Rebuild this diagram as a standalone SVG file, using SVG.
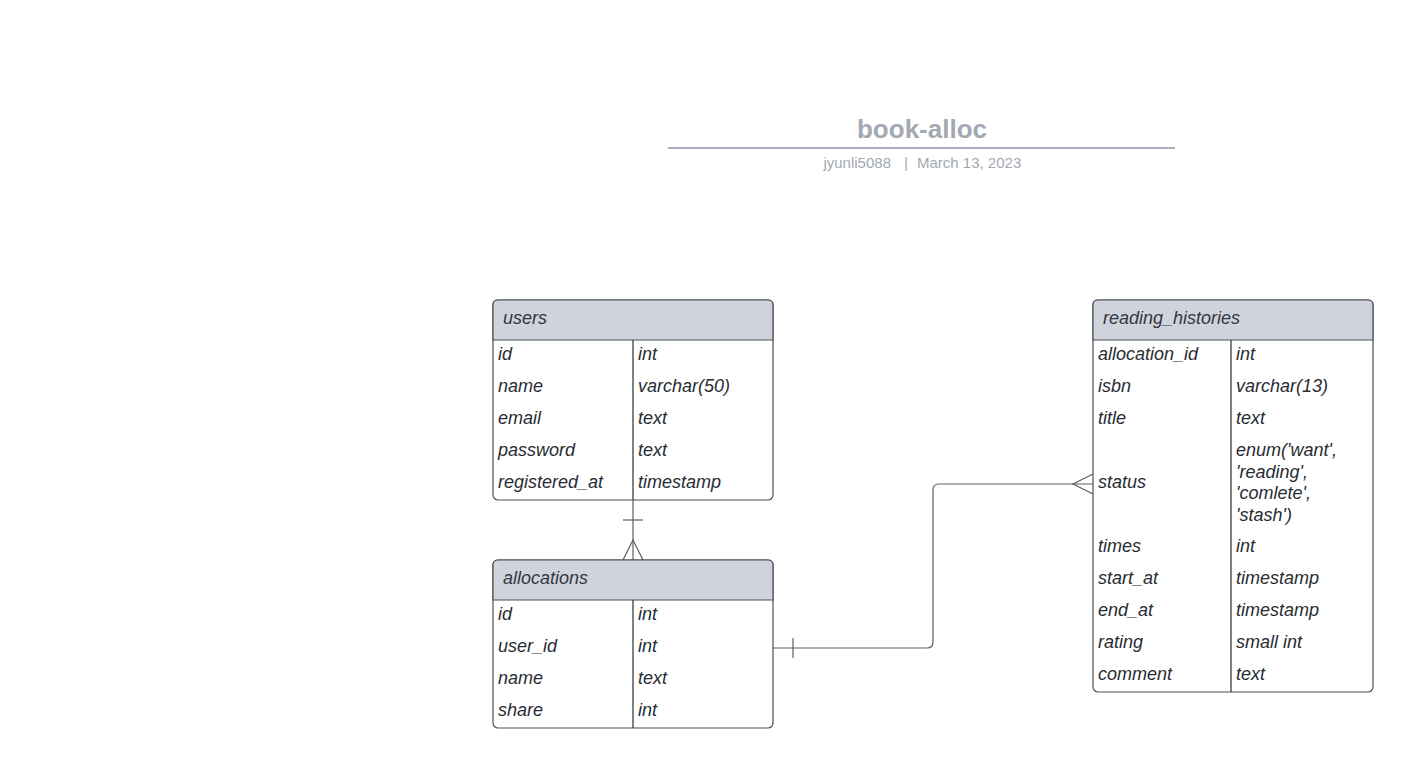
<svg xmlns="http://www.w3.org/2000/svg" width="1413" height="768" viewBox="0 0 1413 768">
<style>
.box{fill:#ffffff;stroke:#4c4f55;stroke-width:1.2}
.hdr{fill:#cfd4dc;stroke:#4c4f55;stroke-width:1.2}
.div{stroke:#282c33;stroke-width:1.2}
.t{font-family:"Liberation Sans",Arial,sans-serif;font-size:18px;font-style:italic;fill:#282c33}
.h{font-family:"Liberation Sans",Arial,sans-serif;font-size:18px;font-style:italic;fill:#333740}
.sub{font-family:"Liberation Sans",Arial,sans-serif;font-size:15px;fill:#a3a8b3}
.con{fill:none;stroke:#5a5e66;stroke-width:1.2}
</style>
<rect width="1413" height="768" fill="#ffffff"/>
<g id="title">
<text x="922" y="138" text-anchor="middle" font-family="Liberation Sans, Arial, sans-serif" font-size="26" font-weight="bold" fill="#a3a8b3">book-alloc</text>
<line x1="668" y1="148" x2="1175" y2="148" stroke="#a9aeb8" stroke-width="2"/>
<text class="sub" x="891" y="168" text-anchor="end">jyunli5088</text>
<text class="sub" x="906" y="168" text-anchor="middle">|</text>
<text class="sub" x="917" y="168">March 13, 2023</text>
</g>
<g id="connectors">
<path class="con" d="M633 500 V560"/>
<path class="con" d="M623 520 H643"/>
<path class="con" d="M623 560 L633 540 L643 560"/>
<path class="con" d="M773 648 H927 Q933 648 933 642 V490 Q933 484 939 484 H1093"/>
<path class="con" d="M793 638 V658"/>
<path class="con" d="M1093 474 L1073 484 L1093 494"/>
</g>
<g id="users">
<rect class="box" x="493" y="300" width="280" height="200" rx="5"/>
<path class="hdr" d="M493 340 V305 Q493 300 498 300 H768 Q773 300 773 305 V340 Z"/>
<line class="div" x1="633" y1="340" x2="633" y2="500"/>
<text class="h" x="503" y="324">users</text>
<text class="t" x="498" y="360">id</text><text class="t" x="638" y="360">int</text>
<text class="t" x="498" y="392">name</text><text class="t" x="638" y="392">varchar(50)</text>
<text class="t" x="498" y="424">email</text><text class="t" x="638" y="424">text</text>
<text class="t" x="498" y="456">password</text><text class="t" x="638" y="456">text</text>
<text class="t" x="498" y="488">registered_at</text><text class="t" x="638" y="488">timestamp</text>
</g>
<g id="allocations">
<rect class="box" x="493" y="560" width="280" height="168" rx="5"/>
<path class="hdr" d="M493 600 V565 Q493 560 498 560 H768 Q773 560 773 565 V600 Z"/>
<line class="div" x1="633" y1="600" x2="633" y2="728"/>
<text class="h" x="503" y="584">allocations</text>
<text class="t" x="498" y="620">id</text><text class="t" x="638" y="620">int</text>
<text class="t" x="498" y="652">user_id</text><text class="t" x="638" y="652">int</text>
<text class="t" x="498" y="684">name</text><text class="t" x="638" y="684">text</text>
<text class="t" x="498" y="716">share</text><text class="t" x="638" y="716">int</text>
</g>
<g id="reading_histories">
<rect class="box" x="1093" y="300" width="280" height="392" rx="5"/>
<path class="hdr" d="M1093 340 V305 Q1093 300 1098 300 H1368 Q1373 300 1373 305 V340 Z"/>
<line class="div" x1="1231" y1="340" x2="1231" y2="692"/>
<text class="h" x="1103" y="324">reading_histories</text>
<text class="t" x="1098" y="360">allocation_id</text><text class="t" x="1236" y="360">int</text>
<text class="t" x="1098" y="392">isbn</text><text class="t" x="1236" y="392">varchar(13)</text>
<text class="t" x="1098" y="424">title</text><text class="t" x="1236" y="424">text</text>
<text class="t" x="1098" y="488">status</text>
<text class="t" x="1236" y="456">enum('want',</text>
<text class="t" x="1236" y="478">'reading',</text>
<text class="t" x="1236" y="499">'comlete',</text>
<text class="t" x="1236" y="521">'stash')</text>
<text class="t" x="1098" y="552">times</text><text class="t" x="1236" y="552">int</text>
<text class="t" x="1098" y="584">start_at</text><text class="t" x="1236" y="584">timestamp</text>
<text class="t" x="1098" y="616">end_at</text><text class="t" x="1236" y="616">timestamp</text>
<text class="t" x="1098" y="648">rating</text><text class="t" x="1236" y="648">small int</text>
<text class="t" x="1098" y="680">comment</text><text class="t" x="1236" y="680">text</text>
</g>
</svg>
